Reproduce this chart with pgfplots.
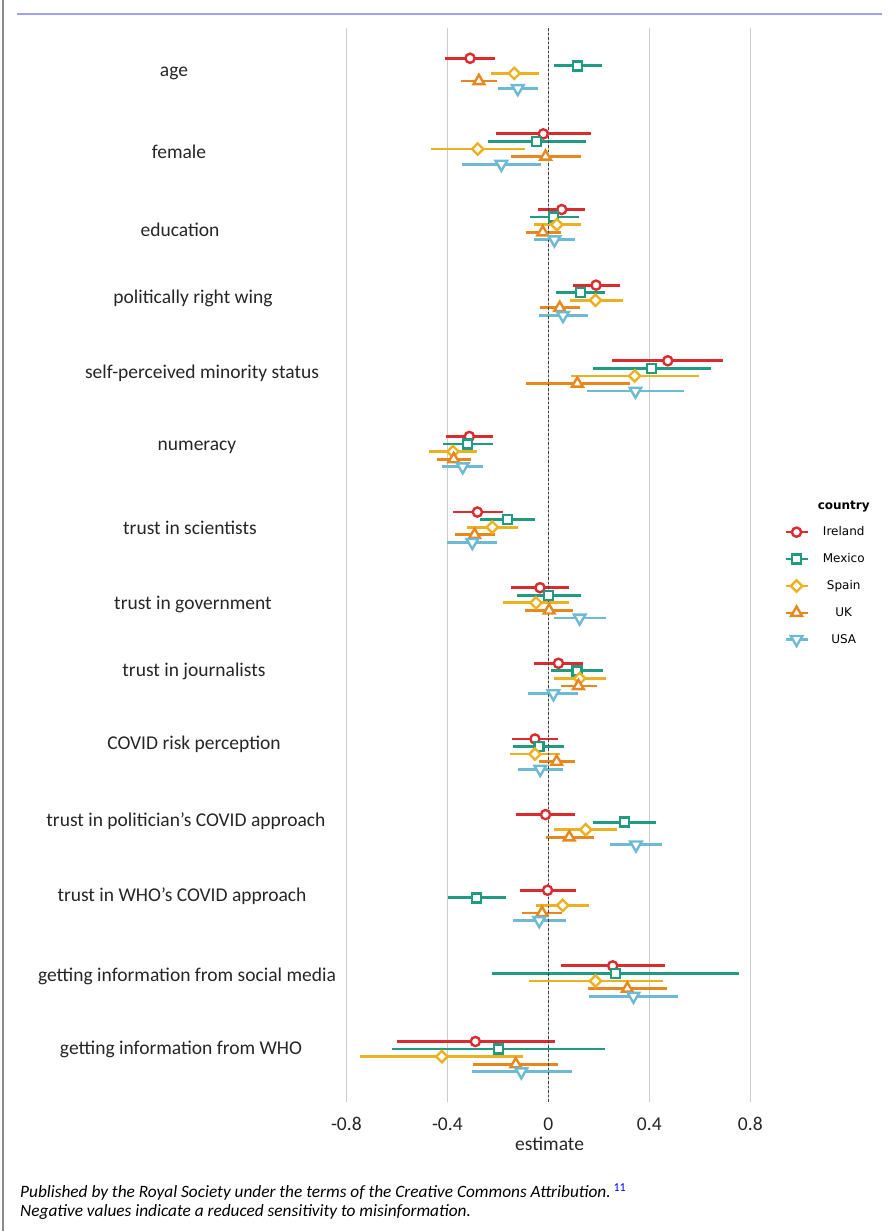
\documentclass[border=0pt]{standalone}
\usepackage{fontspec}
\setmainfont{Carlito}
\newfontfamily\legfont{DejaVu Sans}
\usepackage{pgfplots}
\usepackage{pgfplotstable}
\pgfplotsset{compat=1.18}
\definecolor{cIre}{HTML}{DC2A2E}
\definecolor{cMex}{HTML}{1E9C82}
\definecolor{cSpa}{HTML}{EDB120}
\definecolor{cUK}{HTML}{E8871E}
\definecolor{cUSA}{HTML}{6DBAD5}
\definecolor{topblue}{HTML}{A0A0F8}
\newcommand{\lab}[2]{\makebox[0pt]{\hspace*{#1}\hspace*{#1}#2}}

\pgfplotstableread{
y est lo hi
-0.2 -0.310 -0.409 -0.211
0.8 -0.020 -0.207 0.168
1.8 0.053 -0.040 0.147
2.8 0.189 0.099 0.283
3.8 0.473 0.251 0.693
4.8 -0.313 -0.404 -0.220
5.8 -0.281 -0.379 -0.181
6.8 -0.033 -0.147 0.082
7.8 0.040 -0.055 0.139
8.8 -0.053 -0.145 0.040
9.8 -0.011 -0.129 0.107
10.8 -0.003 -0.111 0.110
11.8 0.255 0.049 0.461
12.8 -0.289 -0.598 0.026
}\tIre
\pgfplotstableread{
y est lo hi
-0.1 0.116 0.022 0.214
0.9 -0.046 -0.240 0.148
1.9 0.021 -0.074 0.120
2.9 0.128 0.030 0.226
3.9 0.409 0.176 0.643
4.9 -0.321 -0.416 -0.220
5.9 -0.162 -0.271 -0.051
6.9 0.001 -0.125 0.129
7.9 0.114 0.012 0.218
8.9 -0.037 -0.139 0.063
9.9 0.301 0.178 0.426
10.9 -0.284 -0.399 -0.169
11.9 0.265 -0.223 0.755
12.9 -0.198 -0.620 0.223
}\tMex
\pgfplotstableread{
y est lo hi
0 -0.135 -0.228 -0.037
1 -0.280 -0.466 -0.092
2 0.034 -0.057 0.128
3 0.187 0.087 0.296
4 0.342 0.090 0.598
5 -0.378 -0.471 -0.283
6 -0.222 -0.323 -0.119
7 -0.049 -0.180 0.083
8 0.124 0.021 0.227
9 -0.053 -0.150 0.046
10 0.148 0.021 0.273
11 0.057 -0.049 0.162
12 0.187 -0.078 0.453
13 -0.422 -0.747 -0.099
}\tSpa
\pgfplotstableread{
y est lo hi
0.1 -0.275 -0.346 -0.203
1.1 -0.011 -0.149 0.128
2.1 -0.022 -0.088 0.049
3.1 0.045 -0.032 0.125
4.1 0.115 -0.090 0.325
5.1 -0.375 -0.442 -0.305
6.1 -0.292 -0.370 -0.213
7.1 0.003 -0.091 0.099
8.1 0.119 0.049 0.194
9.1 0.033 -0.037 0.106
10.1 0.083 -0.011 0.181
11.1 -0.025 -0.106 0.054
12.1 0.313 0.157 0.470
13.1 -0.129 -0.300 0.037
}\tUK
\pgfplotstableread{
y est lo hi
0.2 -0.121 -0.199 -0.041
1.2 -0.186 -0.342 -0.029
2.2 0.024 -0.055 0.106
3.2 0.058 -0.038 0.156
4.2 0.345 0.153 0.537
5.2 -0.339 -0.422 -0.257
6.2 -0.301 -0.400 -0.202
7.2 0.124 0.021 0.227
8.2 0.020 -0.079 0.116
9.2 -0.032 -0.121 0.057
10.2 0.347 0.244 0.449
11.2 -0.036 -0.140 0.069
12.2 0.337 0.160 0.515
13.2 -0.107 -0.302 0.094
}\tUSA

\pgfplotsset{
  myleg/.style={legend image code/.code={\draw[mark repeat=2, mark phase=2, ##1, sharp plot, line width=2.4pt] plot coordinates {(0pt,0pt)(11pt,0pt)(22pt,0pt)};}},
  cirow/.style={only marks, color=#1, line width=2.4pt, myleg,
    error bars/x dir=both, error bars/x explicit, error bars/error mark=none,
    error bars/error bar style={line width=2.8pt, color=#1}},
}

\begin{document}
\begin{tikzpicture}[x=1pt,y=1pt]
\path[use as bounding box] (0,0) rectangle (888,1231);
\draw[line width=2pt, color=black!45] (3,0) -- (3,1231);
\draw[line width=1.5pt, color=topblue] (17,1217) -- (882,1217);
\begin{axis}[
  at={(341.3pt,129pt)}, anchor=south west, scale only axis,
  width=416.6pt, height=1074pt,
  xmin=-0.82, xmax=0.83, ymin=-0.6, ymax=13.6, y dir=reverse,
  axis line style={draw=none}, major tick length=0pt, tick style={draw=none},
  xtick={-0.8,-0.4,0,0.4,0.8}, xticklabels={-0.8,-0.4,0,0.4,0.8},
  xmajorgrids, major grid style={line width=1.6pt, color=black!20},
  ytick={0,1.043,2.073,2.971,3.962,4.939,6.009,7.026,7.911,8.875,9.892,10.883,11.940,12.904},
  yticklabels={\lab{-16pt}{age},\lab{-11pt}{female},\lab{-10pt}{education},\lab{3pt}{politically right wing},\lab{12pt}{self-perceived minority status},\lab{7pt}{numeracy},\lab{0pt}{trust in scientists},\lab{3pt}{trust in government},\lab{4pt}{trust in journalists},\lab{4pt}{COVID risk perception},\lab{-4pt}{trust in politician’s COVID approach},\lab{-8pt}{trust in WHO’s COVID approach},\lab{-3pt}{getting information from social media},\lab{-9pt}{getting information from WHO}},
  ticklabel style={font=\fontsize{19.5}{20}\selectfont, text=black!85},
  xticklabel style={anchor=center, yshift=-22pt},
  yticklabel style={anchor=center, xshift=-151.3pt},
  xlabel={estimate},
  xlabel style={anchor=center, at={(axis description cs:0.5,0)}, yshift=-42pt, font=\fontsize{19.5}{20}\selectfont, text=black!85},
  clip=false,
  legend style={at={(1.063,0.562)}, anchor=north west, draw=none, fill=none,
    font=\legfont\fontsize{12}{14}\selectfont, row sep=12.3pt, column sep=7pt, cells={anchor=center}, inner sep=0pt},
]
\addlegendimage{empty legend}
\addlegendentry{\textbf{country}}
\addplot[cirow=cIre, mark=*, mark size=4.6pt, mark options={fill=white}]
  table[x=est, y=y, x error plus expr=\thisrow{hi}-\thisrow{est}, x error minus expr=\thisrow{est}-\thisrow{lo}] {\tIre};
\addlegendentry{Ireland}
\addplot[cirow=cMex, mark=square*, mark size=4.5pt, mark options={fill=white}]
  table[x=est, y=y, x error plus expr=\thisrow{hi}-\thisrow{est}, x error minus expr=\thisrow{est}-\thisrow{lo}] {\tMex};
\addlegendentry{Mexico}
\addplot[cirow=cSpa, mark=square*, mark size=4.0pt, mark options={fill=white, rotate=45}]
  table[x=est, y=y, x error plus expr=\thisrow{hi}-\thisrow{est}, x error minus expr=\thisrow{est}-\thisrow{lo}] {\tSpa};
\addlegendentry{Spain}
\addplot[cirow=cUK, mark=triangle*, mark size=6.2pt, mark options={fill=white}]
  table[x=est, y=y, x error plus expr=\thisrow{hi}-\thisrow{est}, x error minus expr=\thisrow{est}-\thisrow{lo}] {\tUK};
\addlegendentry{UK}
\addplot[cirow=cUSA, mark=triangle*, mark size=6.7pt, mark options={fill=white, rotate=180}]
  table[x=est, y=y, x error plus expr=\thisrow{hi}-\thisrow{est}, x error minus expr=\thisrow{est}-\thisrow{lo}] {\tUSA};
\addlegendentry{USA}
\addplot[forget plot, line width=0.9pt, color=black!75, dash pattern=on 2.5pt off 2pt] coordinates {(0,-0.6) (0,13.6)};
\end{axis}
\node[anchor=base west, inner sep=0pt, font=\itshape\fontsize{17.3}{17.3}\selectfont] at (20,33) {Published by the Royal Society under the terms of the Creative Commons Attribution.\,{\upshape\color{blue}\textsuperscript{11}}};
\node[anchor=base west, inner sep=0pt, font=\itshape\fontsize{17.3}{17.3}\selectfont] at (20,14) {Negative values indicate a reduced sensitivity to misinformation.};
\end{tikzpicture}
\end{document}
